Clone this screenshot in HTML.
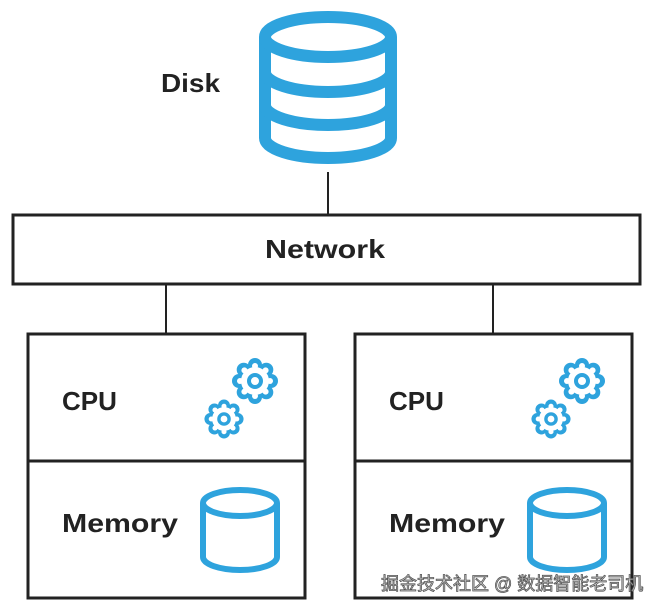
<!DOCTYPE html>
<html><head><meta charset="utf-8"><style>
html,body{margin:0;padding:0;background:#fff;}
svg{display:block;}
text{font-family:"Liberation Sans","Noto Sans CJK SC",sans-serif;font-weight:bold;fill:#222;}
</style></head><body>
<svg width="650" height="607" viewBox="0 0 650 607">
<defs>
<g id="gear">
 <g fill="#2ea3dd">
  <circle cx="0" cy="-16" r="7"/><circle cx="11.3" cy="-11.3" r="7"/><circle cx="16" cy="0" r="7"/><circle cx="11.3" cy="11.3" r="7"/>
  <circle cx="0" cy="16" r="7"/><circle cx="-11.3" cy="11.3" r="7"/><circle cx="-16" cy="0" r="7"/><circle cx="-11.3" cy="-11.3" r="7"/>
  <circle r="17"/>
 </g>
 <g fill="#fff">
  <circle cx="0" cy="-15" r="3"/><circle cx="10.6" cy="-10.6" r="3"/><circle cx="15" cy="0" r="3"/><circle cx="10.6" cy="10.6" r="3"/>
  <circle cx="0" cy="15" r="3"/><circle cx="-10.6" cy="10.6" r="3"/><circle cx="-15" cy="0" r="3"/><circle cx="-10.6" cy="-10.6" r="3"/>
  <circle r="14"/>
 </g>
 <circle r="6" fill="none" stroke="#2ea3dd" stroke-width="4"/>
</g>
<g id="mem" fill="none" stroke="#2ea3dd" stroke-width="6">
 <path d="M203 503 V557 A37 13 0 0 0 277 557 V503"/>
 <ellipse cx="240" cy="503" rx="37" ry="13"/>
</g>
</defs>
<!-- Disk -->
<g fill="none" stroke="#2ea3dd" stroke-width="12">
 <path d="M265 37 V138 A63 20 0 0 0 391 138 V37"/>
 <ellipse cx="328" cy="37" rx="63" ry="20"/>
 <path d="M265 72 A63 20 0 0 0 391 72"/>
 <path d="M265 105 A63 20 0 0 0 391 105"/>
</g>
<text x="161" y="92" font-size="26" textLength="59" lengthAdjust="spacingAndGlyphs">Disk</text>
<g stroke="#222" stroke-width="2">
 <line x1="328" y1="172" x2="328" y2="215"/>
 <line x1="166" y1="284" x2="166" y2="334"/>
 <line x1="493" y1="284" x2="493" y2="334"/>
</g>
<rect x="13" y="215" width="627" height="69" fill="#fff" stroke="#222" stroke-width="3"/>
<text x="265" y="258" font-size="26" textLength="120" lengthAdjust="spacingAndGlyphs">Network</text>
<!-- left -->
<rect x="28" y="334" width="277" height="264" fill="none" stroke="#222" stroke-width="3"/>
<line x1="28" y1="461" x2="305" y2="461" stroke="#222" stroke-width="3"/>
<text x="62" y="410" font-size="26">CPU</text>
<text x="62" y="532" font-size="26" textLength="116" lengthAdjust="spacingAndGlyphs">Memory</text>
<use href="#gear" x="255" y="381"/>
<use href="#gear" transform="translate(224 419) scale(0.85)"/>
<use href="#mem"/>
<!-- right -->
<rect x="355" y="334" width="277" height="264" fill="none" stroke="#222" stroke-width="3"/>
<line x1="355" y1="461" x2="632" y2="461" stroke="#222" stroke-width="3"/>
<text x="389" y="410" font-size="26">CPU</text>
<text x="389" y="532" font-size="26" textLength="116" lengthAdjust="spacingAndGlyphs">Memory</text>
<use href="#gear" x="582" y="381"/>
<use href="#gear" transform="translate(551 419) scale(0.85)"/>
<use href="#mem" x="327"/>
<text x="381" y="590" font-size="18" style="font-weight:normal;fill:#ddd;stroke:#555;stroke-width:0.8">掘金技术社区 @ 数据智能老司机</text>
</svg>
</body></html>
